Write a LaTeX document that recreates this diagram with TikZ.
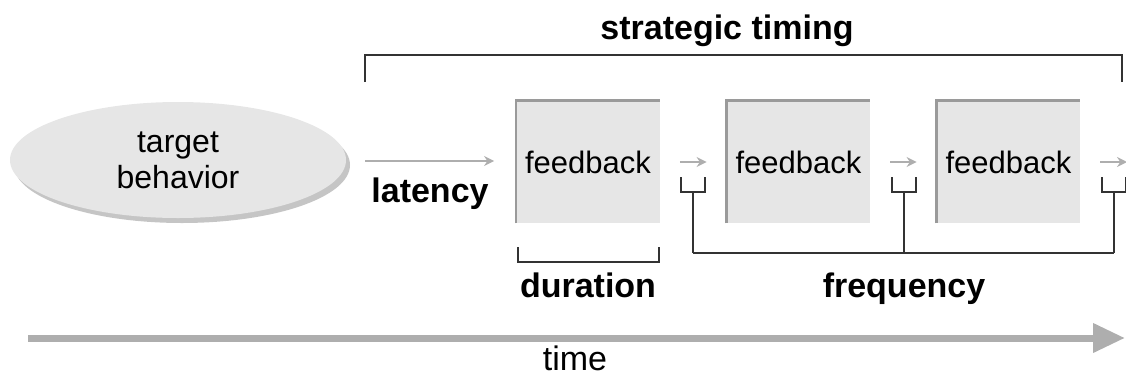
\documentclass[tikz,border=0pt]{standalone}
\usepackage{fontspec}
\setmainfont{Liberation Sans}
\usepackage{tikz}
\usetikzlibrary{calc, positioning, arrows.meta, shapes.geometric, shadows}
\definecolor{xgray}{HTML}{E6E6E6}
\definecolor{xedge}{HTML}{9A9A9A}
\definecolor{xarrow}{HTML}{AEAEAE}
\colorlet{xdark}{black!80}
\tikzset{
  fbbox/.style = {fill=xgray, inner sep=0pt, minimum width=71.5pt, minimum height=61pt, font=\fontsize{15.5}{18}\selectfont},
  fbedge/.style = {draw=xedge, line width=1.3pt},
  smallarrow/.style = {xarrow, line width=0.8pt, -{Stealth[length=5pt, width=5pt]}},
  bracketline/.style = {xdark, line width=1pt},
  boldlabel/.style = {font=\fontsize{17}{20}\selectfont\bfseries, anchor=base},
}

\begin{document}
\begin{tikzpicture}[x=0.5pt, y=-0.5pt]
      \useasboundingbox (0,0) rectangle (1126,376);

      \node[ellipse, fill=xgray, inner sep=0pt, minimum width=168pt, minimum height=58pt, align=center,
            drop shadow={shadow xshift=2pt, shadow yshift=-2.5pt, fill=black!45},
            font=\fontsize{16}{18}\selectfont] (tb) at (178,160) {target\\behavior};

      \node[fbbox] (fb1) at (588,162) {feedback};
      \node[fbbox] (fb2) at (798.5,162) {feedback};
      \node[fbbox] (fb3) at (1008.5,162) {feedback};
      \coordinate (fbnext) at (1147,162);
      \foreach \b in {fb1, fb2, fb3}
        \draw[fbedge] (\b.south west) |- (\b.north east);

      \coordinate (lat0) at (365,161);
      \draw[smallarrow, shorten >=11pt] (lat0) -- (fb1.west |- lat0);
      \node[boldlabel] (lat) at (430,202) {latency};

      \foreach \a/\b in {fb1/fb2, fb2/fb3, fb3/fbnext} {
        \draw[smallarrow, shorten <=10pt, shorten >=10pt] (\a.east) -- (\b.west);
        \coordinate (m) at ($(\a.east)!0.5!(\b.west)$);
        \draw[bracketline] ($(m)+(-12,15)$) -- ++(0,15) -- ++(24,0) -- ++(0,-15);
        \draw[bracketline] ($(m)+(0,30)$) -- ($(m)+(0,91)$) coordinate (\a-f);
      }
      \draw[bracketline] (fb1-f) -- (fb3-f);
      \node[boldlabel] (freq) at (904,297) {frequency};

      \draw[bracketline] ($(fb1.south west)+(2,24)$) -- ++(0,15) -| ($(fb1.south east)+(-1,24)$);
      \node[boldlabel] (dur) at (588,297) {duration};

      \draw[bracketline] (365,82) |- (1122,55) -- ++(0,27);
      \node[boldlabel] (strat) at (727,39) {strategic timing};

      \coordinate (t0) at (28,338);
      \coordinate (t1) at (1125,338);
      \draw[xarrow, line width=3.5pt, -{Triangle[length=16pt, width=14pt]}] (t0) -- (t1);
      \node[font=\fontsize{17}{19}\selectfont, anchor=base, inner sep=0pt] (time) at (575,370) {time};
    \end{tikzpicture}
\end{document}
